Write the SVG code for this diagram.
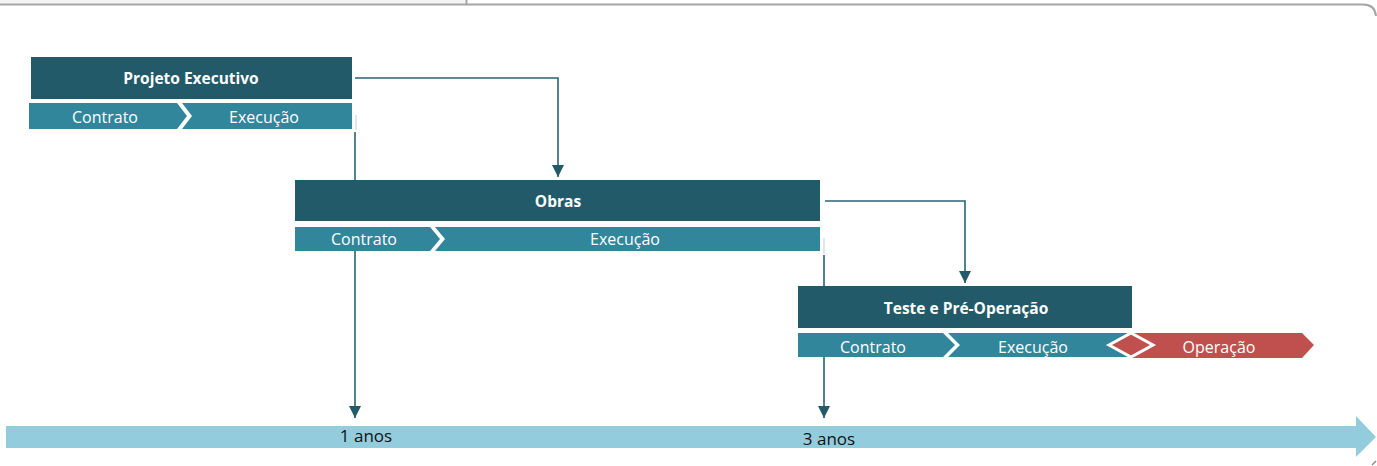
<svg xmlns="http://www.w3.org/2000/svg" width="1377" height="466" viewBox="0 0 1377 466">
<defs>
<style>
.hdr{fill:#225a69}
.bar{fill:#31869b}
.red{fill:#c0504d}
.gap{fill:#ffffff}
.t{font-family:"Open Sans","Noto Sans","Liberation Sans",sans-serif;fill:#ffffff;text-anchor:middle}
.b{font-weight:bold;font-size:15.5px}
.n{font-size:16px}
.ax{font-family:"Open Sans","Noto Sans","Liberation Sans",sans-serif;font-size:17px;fill:#111111;text-anchor:middle}
.ln{fill:none;stroke:#2b6372;stroke-width:1.6}
.faint{fill:none;stroke:#d3dfe2;stroke-width:1.5}
</style>
<marker id="ah" viewBox="0 0 12 12" markerWidth="12" markerHeight="12" refX="12" refY="6" orient="auto" markerUnits="userSpaceOnUse">
<path d="M0,0 L12,6 L0,12 z" fill="#225a69"/>
</marker>
</defs>
<rect width="1377" height="466" fill="#ffffff"/>
<g id="frame">
<rect x="0" y="0" width="466" height="4" fill="#f4f4f4"/>
<path d="M0,4.5 H1363 Q1375,4.5 1376,16" fill="none" stroke="#a6a6a6" stroke-width="2"/>
<line x1="466.5" y1="0" x2="466.5" y2="5" stroke="#a6a6a6" stroke-width="2"/>
<path d="M1372,465 L1376,461" stroke="#888888" stroke-width="1.5"/>
</g>
<g id="timeline">
<polygon points="6,426 1356,426 1356,416 1376,437 1356,457 1356,448 6,448" fill="#93cddd"/>
<text class="ax" x="366" y="442">1 anos</text>
<text class="ax" x="829" y="445">3 anos</text>
</g>
<g id="connectors">
<line class="faint" x1="356" y1="115" x2="356" y2="130"/>
<line class="faint" x1="824" y1="238" x2="824" y2="254"/>
<path class="ln" d="M355,78 H558 V177" marker-end="url(#ah)"/>
<path class="ln" d="M825,201 H965 V283" marker-end="url(#ah)"/>
<path class="ln" d="M355,132 V418" marker-end="url(#ah)"/>
<path class="ln" d="M824,255 V418" marker-end="url(#ah)"/>
</g>
<g id="projeto-executivo">
<rect class="hdr" x="31" y="57" width="321" height="42"/>
<text class="t b" x="191" y="84">Projeto Executivo</text>
<polygon class="bar" points="29,103 177,103 187,116 177,129 29,129"/>
<polygon class="bar" points="182,103 352,103 352,129 182,129 192,116"/>
<text class="t n" x="105" y="122.5">Contrato</text>
<text class="t n" x="264" y="122.5">Execução</text>
</g>
<g id="obras">
<rect class="hdr" x="295" y="180" width="525" height="41"/>
<rect class="gap" x="295" y="221" width="525" height="6"/>
<text class="t b" x="558" y="207">Obras</text>
<polygon class="bar" points="295,227 430,227 440,239 430,251 295,251"/>
<polygon class="bar" points="435,227 820,227 820,251 435,251 445,239"/>
<text class="t n" x="364" y="244.5">Contrato</text>
<text class="t n" x="625" y="244.5">Execução</text>
</g>
<g id="teste-pre-operacao">
<rect class="hdr" x="798" y="286" width="334" height="42"/>
<rect class="gap" x="798" y="328" width="334" height="5"/>
<text class="t b" x="966" y="314">Teste e Pré-Operação</text>
<polygon class="bar" points="798,333 943,333 955,345 943,357 798,357"/>
<polygon class="bar" points="948,333 1132,333 1132,357 948,357 960,345"/>
<text class="t n" x="873" y="352.5">Contrato</text>
<text class="t n" x="1033" y="352.5">Execução</text>
</g>
<g id="operacao">
<polygon class="red" points="1132,333 1302,333 1314,345 1302,358 1132,358"/>
<polygon class="red" points="1109,345 1131,333 1153,345 1131,357" stroke="#ffffff" stroke-width="3" stroke-linejoin="miter"/>
<text class="t n" x="1219" y="352.5">Operação</text>
</g>
</svg>
